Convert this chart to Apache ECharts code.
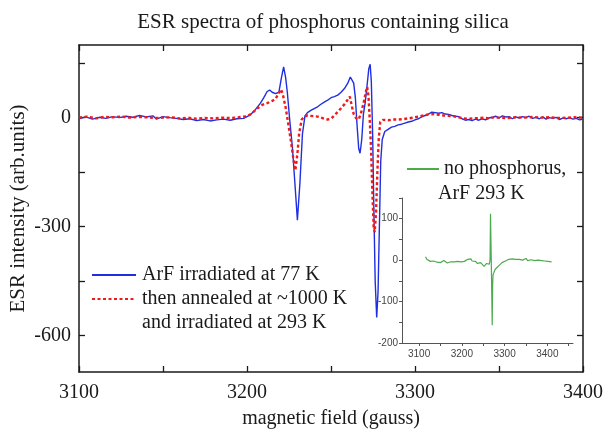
<!DOCTYPE html>
<html>
<head>
<meta charset="utf-8">
<script src="https://cdn.jsdelivr.net/npm/echarts@6/dist/echarts.min.js"></script>
<style>
  html, body { margin: 0; padding: 0; background: #fff; }
  #chart { width: 611px; height: 429px; }
</style>
</head>
<body>
<div id="chart"></div>
<script>
// ESR spectrum: sample irradiated with ArF at 77 K (field in gauss, intensity in arb. units)
const irradField = [
  3100, 3104, 3108, 3112, 3116, 3120, 3124, 3128, 3132, 3136, 3140, 3144, 3146, 3150, 3154,
  3158, 3162, 3166, 3170, 3174, 3178, 3182, 3186, 3190, 3194, 3198, 3200, 3202, 3205, 3208,
  3210, 3212, 3213.5, 3215, 3217, 3219, 3220.5, 3221.8, 3223, 3224, 3225.5, 3227, 3228.5, 3230,
  3231.5, 3233, 3234.5, 3236, 3238, 3240, 3242, 3244, 3246, 3248, 3250, 3252, 3254, 3256, 3258,
  3260, 3261.5, 3262.5, 3263.5, 3264.5, 3265.5, 3266.5, 3267.3, 3268.3, 3269.3, 3270.3, 3271.5,
  3272.5, 3273.3, 3274, 3274.8, 3275.5, 3276.3, 3277.2, 3278, 3278.8, 3279.6, 3280.5, 3282,
  3284, 3286, 3288, 3290, 3292, 3294, 3296, 3298, 3300, 3302, 3304, 3306, 3308, 3310, 3312,
  3314, 3316, 3318, 3320, 3322, 3324, 3326, 3328, 3330, 3332, 3334, 3336, 3338, 3340, 3342,
  3344, 3346, 3348, 3350, 3352, 3354, 3356, 3358, 3360, 3362, 3364, 3366, 3368, 3370, 3372,
  3374, 3376, 3378, 3380, 3382, 3384, 3386, 3388, 3390, 3392, 3394, 3396, 3398, 3400
];
const irradIntensity = [
  -3, 2, -4, 1, -2, 3, 0, 4, 1, 6, 2, 5, -4, 3, 0,
  -2, -5, -3, -8, -5, -9, -6, -4, -7, -3, -2, 3, 8, 22, 40,
  55, 72, 76, 70, 66, 70, 110, 140, 110, 70, -10, -80, -180, -282,
  -180, -45, 5, 14, 20, 25, 30, 37, 43, 48, 55, 58, 62, 70, 80,
  95, 112, 117, 95, 55, -20, -85, -98, -60, 10, 40, 90,
  135, 147, 100, -50, -250, -450, -550, -480, -300, -120, -60, -38,
  -32, -26, -24, -20, -18, -15, -12, -10, -6, -3, 2, 6, 10, 15, 14,
  12, 14, 10, 9, 6, 4, 3, -3, -7, -5, -8, -4, -7, -3, -6,
  -1, 1, 4, -1, 5, 2, 3, -3, 2, -1, 3, 0, 4, -2, 1,
  -3, 2, -4, 0, -2, 1, -5, -1, -3, 0, -4, -2, -6, -4
];

// Same material annealed at ~1000 K, then irradiated at 293 K
const annealField = [
  3100, 3105, 3110, 3115, 3120, 3125, 3130, 3135, 3140, 3145, 3150, 3155, 3160, 3165, 3170,
  3175, 3180, 3185, 3190, 3195, 3200, 3203, 3206, 3209, 3212, 3215, 3217, 3219, 3220.3, 3221.5,
  3223, 3224.5, 3226, 3227.5, 3228.8, 3230, 3231, 3232.5, 3234, 3236, 3238, 3240, 3242, 3244,
  3246, 3248, 3250, 3252, 3254, 3256, 3258, 3260, 3261.2, 3262.5, 3263.5, 3265, 3266.5, 3268,
  3269.5, 3270.7, 3271.5, 3272.3, 3273, 3273.8, 3274.6, 3275.4, 3276, 3276.8, 3277.6, 3278.4,
  3279.3, 3281, 3284, 3287, 3290, 3293, 3296, 3299, 3302, 3305, 3308, 3311, 3314, 3317, 3320,
  3323, 3326, 3329, 3332, 3335, 3338, 3341, 3344, 3347, 3350, 3355, 3360, 3365, 3370, 3375,
  3380, 3385, 3390, 3395, 3400
];
const annealIntensity = [
  0, 3, -2, 2, 1, 3, 0, 2, 1, -1, 0, 1, -2, 0, -3,
  -1, -2, 0, -1, 1, 4, 12, 25, 35, 40, 46, 52, 68, 78, 60,
  28, -15, -60, -110, -145, -100, -45, -6, 3, 6, 5, 4, 3, 0,
  -3, -5, -3, 6, 16, 26, 37, 50, 58, 30, 10, -2, -5, 15,
  42, 70, 85, 60, 0, -80, -200, -300, -315, -260, -150, -60,
  -12, -6, -7, -5, -5, -4, -2, 0, 3, 6, 9, 10, 8, 6, 5,
  4, 1, -2, -3, -2, -1, 0, -2, 1, 0, -1, 1, 0, 2, 0,
  1, -1, 0, 1, 0
];

// Reference sample without phosphorus, ArF irradiation at 293 K
const noPField = [
  3115, 3118, 3122, 3126, 3130, 3134, 3138, 3142, 3146, 3150, 3154, 3158, 3162, 3166, 3170,
  3174, 3178, 3182, 3186, 3190, 3194, 3198, 3202, 3206, 3210, 3214, 3218, 3221, 3224, 3228,
  3232, 3236, 3240, 3244, 3248, 3252, 3255, 3258, 3261, 3264, 3266, 3267, 3268.5, 3270, 3271,
  3272, 3273, 3275, 3278, 3282, 3286, 3290, 3294, 3298, 3302, 3306, 3310, 3314, 3318, 3322,
  3326, 3330, 3334, 3338, 3342, 3346, 3350, 3354, 3358, 3362, 3366, 3370, 3374, 3378, 3382,
  3386, 3390, 3394, 3398, 3402, 3406, 3410
];
const noPIntensity = [
  8, 2, 0, -3, 1, -2, 0, -5, -3, -6, -4, -1, -3, -7, -5,
  -4, -2, -4, -1, -3, -5, -4, -1, -3, 0, 2, 6, 3, -2, -5,
  -3, -8, -11, -6, -10, -15, -12, -8, -5, -10, 0, 112, 20, -80, -157,
  -60, -35, -30, -22, -18, -14, -10, -6, -4, -2, 0, 2, 1, 3, 1,
  2, 0, 2, 1, 0, 3, 4, -1, 0, 1, 0, -1, 1, 0, 2,
  -1, 0, -2, -1, -3, 0, -4
];

// Axis ticks
const fieldTicks = [3100, 3150, 3200, 3250, 3300, 3350, 3400];
const fieldLabels = [3100, 3200, 3300, 3400];
const intensityTicks = [-600, -450, -300, -150, 0, 150];
const intensityLabels = [-600, -300, 0];
const insetFieldTicks = [3100, 3150, 3200, 3250, 3300, 3350, 3400, 3450];
const insetFieldLabels = [3100, 3200, 3300, 3400];
const insetIntensityTicks = [-200, -150, -100, -50, 0, 50, 100, 150];
const insetIntensityLabels = [-200, -100, 0, 100];

const zip = (xs, ys) => xs.map((x, i) => [x, ys[i]]);
const plain = (v) => String(v);

const serif = '"Liberation Serif", "DejaVu Serif", serif';
const sans = '"Liberation Sans", Arial, sans-serif';
const ink = '#1a1a1a';

function mainAxis(extra) {
  return Object.assign({
    type: 'value',
    gridIndex: 0,
    axisLine: { show: true, onZero: false, lineStyle: { color: ink, width: 1.5 } },
    splitLine: { show: false },
    axisLabel: { show: false }
  }, extra);
}
function mainTicks(values) {
  return { show: true, inside: true, length: 6, customValues: values, lineStyle: { color: ink, width: 1.3 } };
}

const chart = echarts.init(document.getElementById('chart'), null, { renderer: 'canvas' });

chart.setOption({
  animation: false,
  backgroundColor: '#ffffff',
  title: {
    text: 'ESR spectra of phosphorus containing silica',
    left: 318,
    top: 7,
    textAlign: 'center',
    textStyle: { fontFamily: serif, fontSize: 21, fontWeight: 'normal', color: ink }
  },
  grid: [
    { left: 79, right: 28, top: 45, bottom: 57, outerBoundsMode: 'none', containLabel: false },
    { left: 402, right: 38, top: 198, bottom: 86, outerBoundsMode: 'none', containLabel: false }
  ],
  xAxis: [
    mainAxis({
      position: 'bottom', min: 3100, max: 3400,
      axisTick: mainTicks(fieldTicks),
      axisLabel: { show: true, customValues: fieldLabels, formatter: plain, margin: 11, fontFamily: serif, fontSize: 20, color: ink },
      name: 'magnetic field (gauss)', nameLocation: 'middle', nameGap: 37, nameMoveOverlap: false,
      nameTextStyle: { fontFamily: serif, fontSize: 20, color: ink }
    }),
    mainAxis({ position: 'top', min: 3100, max: 3400, axisTick: mainTicks(fieldTicks) }),
    {
      type: 'value', gridIndex: 1, position: 'bottom', min: 3060, max: 3460,
      axisLine: { show: true, onZero: false, lineStyle: { color: '#555', width: 1 } },
      axisTick: { show: true, length: 3, customValues: insetFieldTicks, lineStyle: { color: '#555' } },
      axisLabel: { show: true, customValues: insetFieldLabels, formatter: plain, margin: 6, fontFamily: sans, fontSize: 10, color: '#444' },
      splitLine: { show: false }
    }
  ],
  yAxis: [
    mainAxis({
      position: 'left', min: -700, max: 200,
      axisTick: mainTicks(intensityTicks),
      axisLabel: { show: true, customValues: intensityLabels, formatter: plain, margin: 8, fontFamily: serif, fontSize: 20, color: ink },
      name: 'ESR intensity (arb.units)', nameLocation: 'middle', nameGap: 50, nameRotate: 90, nameMoveOverlap: false,
      nameTextStyle: { fontFamily: serif, fontSize: 21, color: ink }
    }),
    mainAxis({ position: 'right', min: -700, max: 200, axisTick: mainTicks(intensityTicks) }),
    {
      type: 'value', gridIndex: 1, position: 'left', min: -200, max: 150,
      axisLine: { show: true, onZero: false, lineStyle: { color: '#555', width: 1 } },
      axisTick: { show: true, length: 3, customValues: insetIntensityTicks, lineStyle: { color: '#555' } },
      axisLabel: { show: true, customValues: insetIntensityLabels, formatter: plain, margin: 4, fontFamily: sans, fontSize: 10, color: '#444' },
      splitLine: { show: false }
    }
  ],
  legend: [
    {
      data: ['ArF irradiated at 77 K', 'then annealed at ~1000 K'],
      orient: 'vertical', left: 91, top: 265, padding: 0,
      itemWidth: 44, itemHeight: 14, itemGap: 4,
      itemStyle: { opacity: 0 },
      textStyle: { fontFamily: serif, fontSize: 20, color: ink, padding: [0, 0, 0, 1] }
    },
    {
      data: ['no phosphorus,'],
      orient: 'vertical', left: 406, top: 159, padding: 0,
      itemWidth: 32, itemHeight: 14,
      itemStyle: { opacity: 0 },
      textStyle: { fontFamily: serif, fontSize: 20, color: ink, padding: [0, 0, 0, 0] }
    }
  ],
  graphic: [
    {
      type: 'text', left: 142, top: 313,
      style: { text: 'and irradiated at 293 K', font: '20px ' + serif, fill: ink }
    },
    {
      type: 'text', left: 438, top: 184,
      style: { text: 'ArF 293 K', font: '20px ' + serif, fill: ink }
    }
  ],
  series: [
    {
      name: 'ArF irradiated at 77 K',
      type: 'line', xAxisIndex: 0, yAxisIndex: 0,
      data: zip(irradField, irradIntensity),
      showSymbol: false, symbol: 'none', smooth: false,
      lineStyle: { color: '#1f2ee0', width: 1.4 },
      itemStyle: { color: '#1f2ee0' },
      z: 2
    },
    {
      name: 'then annealed at ~1000 K',
      type: 'line', xAxisIndex: 0, yAxisIndex: 0,
      data: zip(annealField, annealIntensity),
      showSymbol: false, symbol: 'none', smooth: false,
      lineStyle: { color: '#f01a1a', width: 2.4, type: [3, 2.5] },
      itemStyle: { color: '#f01a1a' },
      z: 3
    },
    {
      name: 'no phosphorus,',
      type: 'line', xAxisIndex: 2, yAxisIndex: 2,
      data: zip(noPField, noPIntensity),
      showSymbol: false, symbol: 'none', smooth: false,
      lineStyle: { color: '#4daa4d', width: 1.2 },
      itemStyle: { color: '#4daa4d' },
      z: 3
    }
  ]
});
</script>
</body>
</html>
